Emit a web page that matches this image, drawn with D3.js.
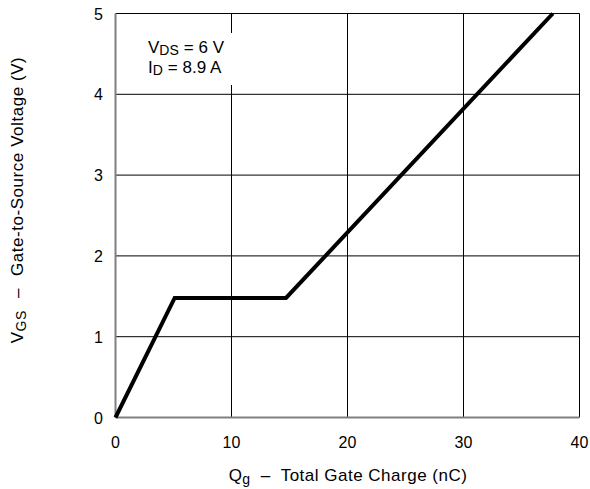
<!DOCTYPE html>
<html>
<head>
<meta charset="utf-8">
<script src="https://cdn.jsdelivr.net/npm/d3@7"></script>
<style>
  body { margin: 0; background: #fff; }
  svg { font-family: "Liberation Sans", Arial, Helvetica, sans-serif; }
</style>
</head>
<body>
<svg id="chart" width="590" height="489"></svg>
<script>
// Gate charge curve: Qg (nC) vs VGS (V)
const chargeNC = [0, 5.1, 14.7, 37.7];
const gateVolts = [0, 1.48, 1.48, 5.0];
const xTicks = [0, 10, 20, 30, 40];
const yTicks = [0, 1, 2, 3, 4, 5];

const svg = d3.select("#chart");
const plotLeft = 115.5, plotRight = 579.5, plotTop = 13.5, plotBottom = 417.5;
const fs = 16, titleFs = 17, subFs = 14;

const x = d3.scaleLinear().domain([0, 40]).range([plotLeft, plotRight]);
const y = d3.scaleLinear().domain([0, 5]).range([plotBottom, plotTop]);

// grid
const g = svg.append("g");
g.selectAll("line.vg").data(xTicks.slice(1)).join("line")
  .attr("x1", d => x(d)).attr("x2", d => x(d))
  .attr("y1", plotTop).attr("y2", plotBottom)
  .attr("stroke", "#000").attr("stroke-width", 1);
g.selectAll("line.hg").data(yTicks.slice(1)).join("line")
  .attr("x1", plotLeft).attr("x2", plotRight)
  .attr("y1", d => y(d)).attr("y2", d => y(d))
  .attr("stroke", "#000").attr("stroke-width", 1);

// left and bottom axes (grey)
svg.append("line").attr("x1", plotLeft).attr("x2", plotLeft).attr("y1", plotTop).attr("y2", plotBottom)
  .attr("stroke", "#808080").attr("stroke-width", 2);
svg.append("line").attr("x1", plotLeft).attr("x2", plotRight).attr("y1", plotBottom).attr("y2", plotBottom)
  .attr("stroke", "#808080").attr("stroke-width", 2);

// test-condition box
svg.append("rect").attr("x", 140).attr("y", 33).attr("width", 100).attr("height", 52).attr("fill", "#fff");
const ann = svg.append("g").attr("font-size", titleFs).attr("fill", "#000");
const t1 = ann.append("text").attr("x", 148).attr("y", 53);
t1.append("tspan").text("V");
t1.append("tspan").attr("font-size", subFs).attr("dy", 2).text("DS");
t1.append("tspan").attr("dy", -2).attr("dx", 5).text("= 6 V");
const t2 = ann.append("text").attr("x", 148).attr("y", 73);
t2.append("tspan").text("I");
t2.append("tspan").attr("font-size", subFs).attr("dy", 2).text("D");
t2.append("tspan").attr("dy", -2).attr("dx", 5).text("= 8.9 A");

// curve
const line = d3.line().x(d => x(d[0])).y(d => y(d[1]));
svg.append("path")
  .datum(chargeNC.map((c, i) => [c, gateVolts[i]]))
  .attr("d", line)
  .attr("fill", "none").attr("stroke", "#000").attr("stroke-width", 4)
  .attr("stroke-linejoin", "miter");

// tick labels
svg.selectAll("text.xt").data(xTicks).join("text")
  .attr("x", d => x(d)).attr("y", 448).attr("text-anchor", "middle")
  .attr("font-size", fs).text(d => d);
svg.selectAll("text.yt").data(yTicks).join("text")
  .attr("x", 103).attr("y", d => y(d) + 6).attr("text-anchor", "end")
  .attr("font-size", fs).text(d => d);

// axis titles
const xt = svg.append("text").attr("x", 348).attr("y", 481).attr("text-anchor", "middle")
  .attr("font-size", titleFs).attr("letter-spacing", 0.5);
xt.append("tspan").text("Q");
xt.append("tspan").attr("font-size", subFs).attr("dy", 3).text("g");
xt.append("tspan").attr("dy", -3).attr("dx", 10).text("\u2013");
xt.append("tspan").attr("dx", 10).text("Total Gate Charge (nC)");

const yt = svg.append("text").attr("transform", "translate(23,200) rotate(-90)")
  .attr("text-anchor", "middle").attr("font-size", titleFs).attr("letter-spacing", 0.55);
yt.append("tspan").text("V");
yt.append("tspan").attr("font-size", subFs).attr("dy", 3).text("GS");
yt.append("tspan").attr("dy", -3).attr("dx", 12).text("\u2013");
yt.append("tspan").attr("dx", 12).text("Gate-to-Source Voltage (V)");
</script>
</body>
</html>
